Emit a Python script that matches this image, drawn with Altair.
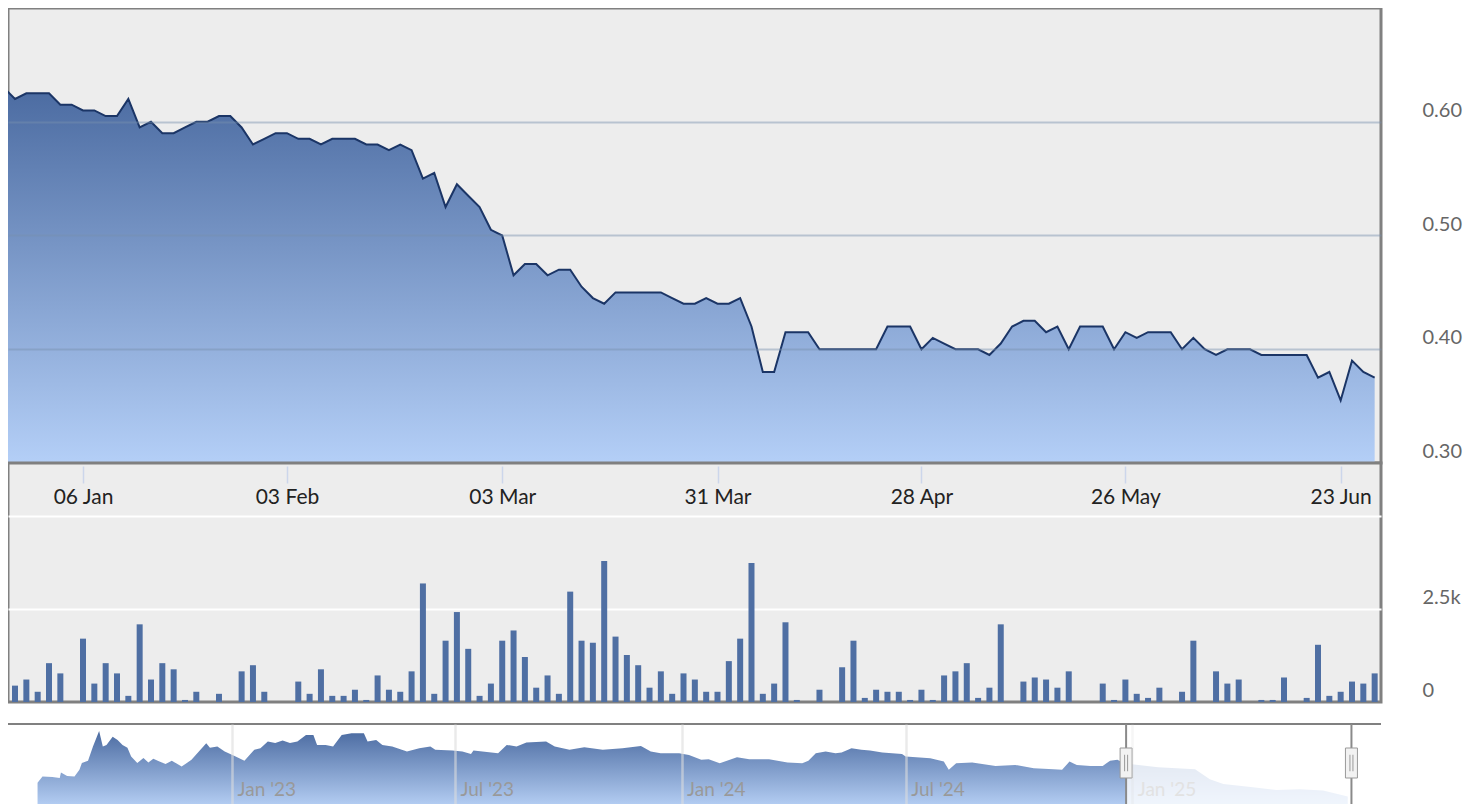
import altair as alt
import pandas as pd

# ---------------- main series (trading-day index) ----------------
price_idx = list(range(-1, 121))
prices = [
    0.63,
    0.62, 0.625, 0.625, 0.625, 0.615, 0.615, 0.61, 0.61, 0.605, 0.605,
    0.62, 0.595, 0.60, 0.59, 0.59, 0.595, 0.60, 0.60, 0.605, 0.605,
    0.595, 0.58, 0.585, 0.59, 0.59, 0.585, 0.585, 0.58, 0.585, 0.585,
    0.585, 0.58, 0.58, 0.575, 0.58, 0.575, 0.55, 0.555, 0.525, 0.545,
    0.535, 0.525, 0.505, 0.50, 0.465, 0.475, 0.475, 0.465, 0.47, 0.47,
    0.455, 0.445, 0.44, 0.45, 0.45, 0.45, 0.45, 0.45, 0.445, 0.44,
    0.44, 0.445, 0.44, 0.44, 0.445, 0.42, 0.38, 0.38, 0.415, 0.415,
    0.415, 0.40, 0.40, 0.40, 0.40, 0.40, 0.40, 0.42, 0.42, 0.42,
    0.40, 0.41, 0.405, 0.40, 0.40, 0.40, 0.395, 0.405, 0.42, 0.425,
    0.425, 0.415, 0.42, 0.40, 0.42, 0.42, 0.42, 0.40, 0.415, 0.41,
    0.415, 0.415, 0.415, 0.40, 0.41, 0.40, 0.395, 0.40, 0.40, 0.40,
    0.395, 0.395, 0.395, 0.395, 0.395, 0.375, 0.38, 0.355, 0.39, 0.38,
    0.375,
]
vol_idx = list(range(0, 121))
volumes = [
    440, 604, 275, 1044, 769, 0, 1703, 495, 1044, 769,
    165, 2088, 604, 1044, 879, 55, 275, 0, 220, 0,
    824, 989, 275, 0, 0, 549, 220, 879, 165, 165,
    330, 55, 714, 330, 275, 824, 3187, 220, 1648, 2418,
    1429, 165, 495, 1648, 1923, 1209, 385, 714, 220, 2967,
    1648, 1593, 3791, 1758, 1264, 989, 385, 824, 220, 769,
    604, 275, 275, 1099, 1703, 3736, 220, 495, 2143, 55,
    0, 330, 0, 934, 1648, 110, 330, 275, 275, 55,
    330, 55, 714, 824, 1044, 110, 385, 2088, 0, 549,
    659, 604, 385, 824, 0, 0, 495, 55, 604, 220,
    110, 385, 0, 275, 1648, 0, 824, 495, 604, 0,
    55, 55, 659, 0, 110, 1538, 165, 275, 549, 495,
    769,
]
tick_idx = [6, 24, 43, 62, 80, 98, 117]
tick_labels = ["06 Jan", "03 Feb", "03 Mar", "31 Mar", "28 Apr", "26 May", "23 Jun"]

# ---------------- navigator (full history) ----------------
nav_dates = [
    "2022-07-27", "2022-07-31", "2022-08-08", "2022-08-14", "2022-08-15", "2022-08-20",
    "2022-08-26", "2022-08-30", "2022-09-01", "2022-09-06", "2022-09-10", "2022-09-15",
    "2022-09-18", "2022-09-21", "2022-09-26", "2022-09-30", "2022-10-04", "2022-10-08",
    "2022-10-11", "2022-10-16", "2022-10-21", "2022-10-25", "2022-10-29", "2022-11-03",
    "2022-11-08", "2022-11-13", "2022-11-21", "2022-11-29", "2022-12-05", "2022-12-11",
    "2022-12-14", "2022-12-20", "2022-12-26", "2023-01-03", "2023-01-11", "2023-01-19",
    "2023-01-24", "2023-01-30", "2023-02-05", "2023-02-11", "2023-02-17", "2023-02-23",
    "2023-03-02", "2023-03-08", "2023-03-11", "2023-03-18", "2023-03-24", "2023-03-31",
    "2023-04-08", "2023-04-18", "2023-04-21", "2023-04-28", "2023-05-03", "2023-05-11",
    "2023-05-23", "2023-06-02", "2023-06-11", "2023-06-15", "2023-06-29", "2023-07-07",
    "2023-07-14", "2023-07-16", "2023-08-05", "2023-08-12", "2023-08-20", "2023-08-28",
    "2023-09-13", "2023-09-20", "2023-10-02", "2023-10-14", "2023-10-29", "2023-11-14",
    "2023-11-29", "2023-12-07", "2023-12-15", "2023-12-30", "2024-01-07", "2024-01-17",
    "2024-01-23", "2024-02-01", "2024-02-15", "2024-02-25", "2024-03-12", "2024-03-27",
    "2024-04-08", "2024-04-13", "2024-04-19", "2024-04-27", "2024-05-05", "2024-05-10",
    "2024-05-18", "2024-05-26", "2024-06-02", "2024-06-12", "2024-06-28", "2024-07-01",
    "2024-07-21", "2024-08-01", "2024-08-05", "2024-08-11", "2024-08-24", "2024-09-12",
    "2024-09-28", "2024-10-13", "2024-10-29", "2024-11-05", "2024-11-11", "2024-11-17",
    "2024-11-28", "2024-12-08", "2024-12-14", "2024-12-20", "2024-12-25", "2025-01-06",
    "2025-01-22", "2025-02-06", "2025-02-21", "2025-03-05", "2025-03-16", "2025-04-09",
    "2025-04-28", "2025-05-17", "2025-06-05", "2025-06-25",
]
nav_prices = [
    0.457, 0.512, 0.509, 0.500, 0.548, 0.518,
    0.512, 0.573, 0.636, 0.657, 0.785, 0.927,
    0.785, 0.800, 0.873, 0.845, 0.800, 0.773,
    0.694, 0.636, 0.682, 0.639, 0.673, 0.648,
    0.627, 0.657, 0.603, 0.664, 0.739, 0.815,
    0.773, 0.785, 0.739, 0.700, 0.657, 0.755,
    0.770, 0.830, 0.818, 0.839, 0.818, 0.830,
    0.891, 0.891, 0.800, 0.800, 0.785, 0.891,
    0.906, 0.906, 0.830, 0.845, 0.800, 0.785,
    0.739, 0.770, 0.785, 0.755, 0.748, 0.739,
    0.718, 0.748, 0.725, 0.800, 0.785, 0.821,
    0.830, 0.785, 0.755, 0.779, 0.755, 0.770,
    0.791, 0.739, 0.725, 0.725, 0.709, 0.664,
    0.670, 0.634, 0.688, 0.670, 0.670, 0.639,
    0.634, 0.657, 0.725, 0.739, 0.725, 0.730,
    0.770, 0.755, 0.748, 0.730, 0.718, 0.694,
    0.679, 0.648, 0.573, 0.634, 0.639, 0.609,
    0.618, 0.588, 0.579, 0.573, 0.648, 0.618,
    0.609, 0.609, 0.657, 0.664, 0.634, 0.618,
    0.597, 0.588, 0.579, 0.488, 0.445, 0.415,
    0.390, 0.397, 0.385, 0.330,
]
sel_start = "2024-12-27"
sel_end = "2025-06-28"
nav_tick_dates = [(2023, 1), (2023, 7), (2024, 1), (2024, 7), (2025, 1)]

FONT = "Lato"
W = 1373

price_df = pd.DataFrame({"i": price_idx, "p": prices})
vol_df = pd.DataFrame({"i": vol_idx, "v": volumes})
nav_df = pd.DataFrame({"d": nav_dates, "p": nav_prices})
sel_df = pd.DataFrame({"s": [sel_start], "e": [sel_end]})
handle_df = pd.DataFrame({"d": [sel_start, sel_end]})

xscale = alt.Scale(domain=[-0.62, 120.56], nice=False, zero=False, padding=0)

label_expr = " : ".join(
    f"datum.value == {i} ? '{t}'" for i, t in zip(tick_idx, tick_labels)
) + " : ''"

# ---------------- price panel ----------------
grad = alt.Gradient(
    gradient="linear",
    stops=[alt.GradientStop(color="#4b6ba1", offset=0),
           alt.GradientStop(color="#b4cff7", offset=1)],
    x1=0, x2=0, y1=0, y2=1,
)
pbase = alt.Chart(price_df)
p_area = pbase.mark_area(clip=True, color=grad).encode(
    x=alt.X("i:Q", scale=xscale,
            axis=alt.Axis(labels=False, ticks=False, grid=False, domain=True,
                          domainColor="#808080", domainWidth=2, title=None)),
    y=alt.Y("p:Q", scale=alt.Scale(domain=[0.30, 0.70], nice=False, zero=False),
            axis=alt.Axis(orient="right", values=[0.3, 0.4, 0.5, 0.6], format=".2f",
                          labelAlign="left", labelPadding=41, labelBaseline="middle",
                          labelOffset=-11.5, ticks=False, domain=False, grid=True,
                          gridColor="#7890ad", gridOpacity=0.45, gridWidth=2,
                          labelColor="#666666", labelFontSize=20, labelFont=FONT,
                          zindex=1, title=None)),
    y2=alt.Y2Datum(0.30),
)
p_line = pbase.mark_line(clip=True, color="#1b3566", strokeWidth=2).encode(
    x=alt.X("i:Q", scale=xscale), y=alt.Y("p:Q"),
)
price_chart = alt.layer(p_area, p_line).properties(
    width=W, height=455,
    view=alt.ViewBackground(fill="#ededed", stroke="#808080", strokeWidth=3),
)

# ---------------- volume panel ----------------
vol_chart = alt.Chart(vol_df).mark_bar(size=6, color="#4f6fa3").encode(
    x=alt.X("i:Q", scale=xscale,
            axis=alt.Axis(orient="bottom", offset=-236, values=tick_idx,
                          labelExpr=label_expr, tickSize=17, tickColor="#ccd6eb",
                          tickWidth=1.5, domain=False, grid=False,
                          labelFontSize=21, labelFont=FONT, labelColor="#222222",
                          labelPadding=3, labelFlush=False, labelOverlap=False,
                          title=None)),
    y=alt.Y("v:Q", scale=alt.Scale(domain=[0, 6425], nice=False),
            axis=alt.Axis(orient="right", values=[0, 2500, 5000],
                          labelExpr="datum.value == 0 ? '0' : datum.value == 2500 ? '2.5k' : ''",
                          grid=True, gridColor="#ffffff", gridWidth=2,
                          gridOpacity={"condition": {"test": "datum.value == 0", "value": 0}, "value": 1},
                          ticks=False, domain=False, labelAlign="left", labelPadding=41,
                          labelBaseline="middle", labelOffset=-11.5,
                          labelColor="#666666", labelFontSize=20, labelFont=FONT,
                          title=None)),
).properties(
    width=W, height=239,
    view=alt.ViewBackground(fill="#ededed", stroke="#808080", strokeWidth=3),
)

# ---------------- navigator ----------------
nav_grad = alt.Gradient(
    gradient="linear",
    stops=[alt.GradientStop(color="#4b6ba1", offset=0),
           alt.GradientStop(color="#bdd6fa", offset=1)],
    x1=0, x2=0, y1=0, y2=1,
)
nav_x = alt.Scale(domain=[alt.DateTime(year=2022, month=7, date=3),
                          alt.DateTime(year=2025, month=7, date=22)], nice=False, padding=0)
nav_area = alt.Chart(nav_df).mark_area(color=nav_grad, clip=True).encode(
    x=alt.X("d:T", scale=nav_x,
            axis=alt.Axis(orient="bottom", offset=-16.5,
                          values=[alt.DateTime(year=y, month=m, date=1) for y, m in nav_tick_dates],
                          format="%b '%y", labelAlign="left", labelBaseline="alphabetic",
                          labelPadding=0, labelOffset=5, ticks=False, tickSize=0,
                          domain=False, grid=True, gridColor="#dcdcdc", gridWidth=2.5,
                          gridOpacity={"condition": {"test": "year(datum.value) >= 2025", "value": 0.25}, "value": 0.6},
                          labelColor={"condition": {"test": "year(datum.value) >= 2025", "value": "#e2e2e2"}, "value": "#999999"},
                          labelFontSize=19, labelFont=FONT, labelFlush=False,
                          labelOverlap=False, zindex=1, title=None)),
    y=alt.Y("p:Q", scale=alt.Scale(domain=[0.19, 0.99], nice=False, zero=False), axis=None),
    y2=alt.Y2Datum(0.19),
)
nav_mask = alt.Chart(sel_df).mark_rect(color="#ffffff", opacity=0.8).encode(
    x=alt.X("s:T", scale=nav_x), x2="e:T",
)
nav_top = alt.Chart(sel_df).mark_rule(color="#808080", strokeWidth=2).encode(
    y=alt.value(0),
)
nav_hlines = alt.Chart(handle_df).mark_rule(color="#8a8a8a", strokeWidth=2).encode(
    x=alt.X("d:T", scale=nav_x),
)
handle_path = "M-0.4,-1 L0.4,-1 L0.4,1 L-0.4,1 Z"
grip_path = "M-0.1,-0.55 L-0.1,0.55 M0.1,-0.55 L0.1,0.55"
nav_handles = alt.Chart(handle_df).mark_point(
    shape=handle_path, size=900, filled=True, fill="#f2f2f2", stroke="#999999",
    strokeWidth=1, opacity=1,
).encode(x=alt.X("d:T", scale=nav_x), y=alt.value(39))
nav_grips = alt.Chart(handle_df).mark_point(
    shape=grip_path, size=900, filled=False, stroke="#999999", strokeWidth=1, opacity=1,
).encode(x=alt.X("d:T", scale=nav_x), y=alt.value(39))

nav_chart = alt.layer(nav_area, nav_mask, nav_top, nav_hlines, nav_handles, nav_grips).properties(
    width=W, height=88,
    view=alt.ViewBackground(stroke="transparent"),
)

top = alt.vconcat(price_chart, vol_chart, spacing=0, bounds="flush")
chart = alt.vconcat(top, nav_chart, spacing=18).properties(
    padding={"left": -2, "top": -2, "right": 0, "bottom": 0}, background="#ffffff",
).configure(font=FONT)

chart.save("out.html", embed_options={"renderer": "svg", "actions": False})
